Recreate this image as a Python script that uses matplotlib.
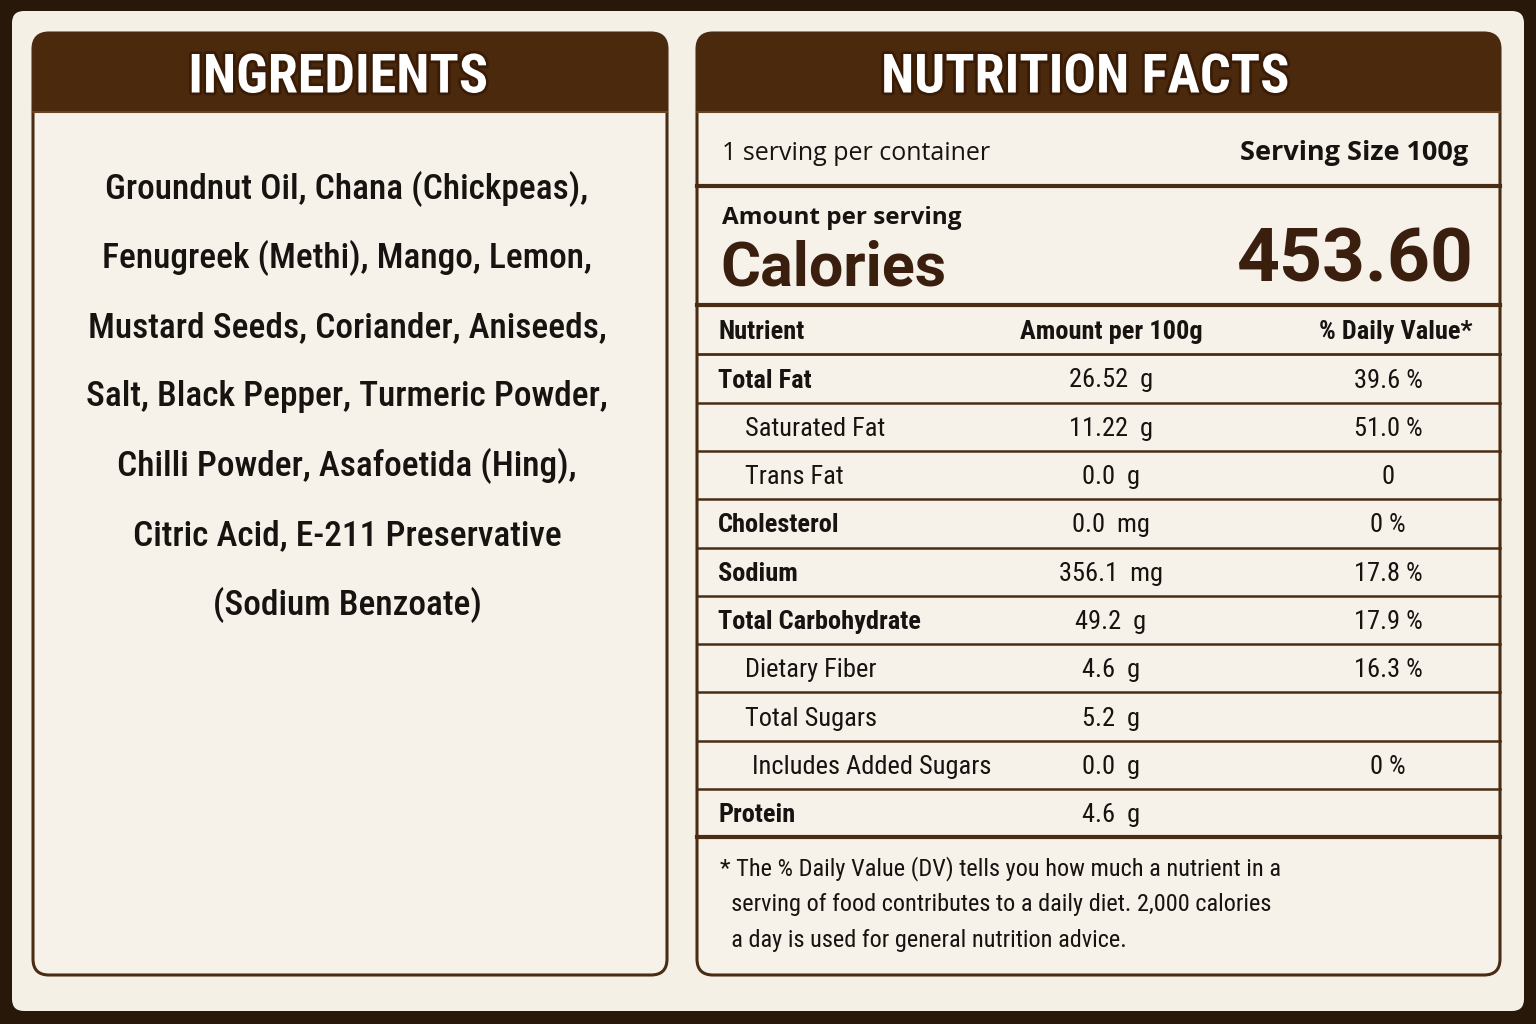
import matplotlib
matplotlib.use("Agg")
import matplotlib.pyplot as plt
from matplotlib import font_manager as fm
from matplotlib.patches import FancyBboxPatch, Rectangle
import matplotlib.patheffects as pe
import os

# ---------------- data ----------------
ingredients_title = "INGREDIENTS"
ingredient_lines = [
    "Groundnut Oil, Chana (Chickpeas),",
    "Fenugreek (Methi), Mango, Lemon,",
    "Mustard Seeds, Coriander, Aniseeds,",
    "Salt, Black Pepper, Turmeric Powder,",
    "Chilli Powder, Asafoetida (Hing),",
    "Citric Acid, E-211 Preservative",
    "(Sodium Benzoate)",
]
facts_title = "NUTRITION FACTS"
servings_text = "1 serving per container"
serving_size_text = "Serving Size 100g"
amount_label = "Amount per serving"
calories_label = "Calories"
calories_value = "453.60"
col_headers = ["Nutrient", "Amount per 100g", "% Daily Value*"]
nutrients = ["Total Fat", "Saturated Fat", "Trans Fat", "Cholesterol", "Sodium",
             "Total Carbohydrate", "Dietary Fiber", "Total Sugars",
             "Includes Added Sugars", "Protein"]
amounts = ["26.52 g", "11.22 g", "0.0 g", "0.0 mg", "356.1 mg",
           "49.2 g", "4.6 g", "5.2 g", "0.0 g", "4.6 g"]
daily_values = ["39.6 %", "51.0 %", "0", "0 %", "17.8 %",
                "17.9 %", "16.3 %", "", "0 %", ""]
indent_level = [0, 1, 1, 0, 0, 0, 1, 1, 2, 0]
footnote_lines = [
    "* The % Daily Value (DV) tells you how much a nutrient in a",
    "  serving of food contributes to a daily diet. 2,000 calories",
    "  a day is used for general nutrition advice.",
]

# ---------------- fonts ----------------
files = fm.findSystemFonts()
def find(cands):
    for c in cands:
        for f in files:
            if os.path.basename(f).lower() == c.lower():
                return f
    return None

cond_reg = find(["RobotoCondensed-Regular.ttf", "LiberationSansNarrow-Regular.ttf",
                 "DejaVuSansCondensed.ttf"])
cond_med = find(["RobotoCondensed-Medium.ttf", "RobotoCondensed-Regular.ttf",
                 "LiberationSansNarrow-Regular.ttf", "DejaVuSansCondensed.ttf"])
cond_bold = find(["RobotoCondensed-Bold.ttf", "LiberationSansNarrow-Bold.ttf",
                  "DejaVuSansCondensed-Bold.ttf"])
def FP(path, fallback_weight):
    if path:
        return fm.FontProperties(fname=path)
    return fm.FontProperties(family="DejaVu Sans", weight=fallback_weight)

f_reg = FP(cond_reg, "normal")
f_med = FP(cond_med, "normal")
f_bold = FP(cond_bold, "bold")
f_sans = fm.FontProperties(family=["Open Sans", "DejaVu Sans"])
f_sans_b = fm.FontProperties(family=["Open Sans", "DejaVu Sans"], weight="bold")
f_big = fm.FontProperties(family=["Roboto", "DejaVu Sans"], weight="bold")

def fp(base, size):
    p = base.copy()
    p.set_size(size)
    return p

# ---------------- colours ----------------
BG = "#28180a"
CARD = "#f4f0e6"
PANEL = "#f6f2ea"
BROWN = "#4b290d"
LINE = "#4a2c14"
TXT = "#161310"
CAL = "#3a1f0e"

fig = plt.figure(figsize=(15.36, 10.24), dpi=100)
fig.patch.set_facecolor(BG)
ax = fig.add_axes([0, 0, 1, 1])
ax.set_xlim(0, 1536)
ax.set_ylim(1024, 0)
ax.axis("off")

card = FancyBboxPatch((12, 11), 1512, 1000, boxstyle="round,pad=0,rounding_size=12",
                      fc=CARD, ec="none", zorder=0)
ax.add_patch(card)

def panel(x0, x1, title, tx):
    y0, y1 = 33, 975
    p = FancyBboxPatch((x0, y0), x1 - x0, y1 - y0, boxstyle="round,pad=0,rounding_size=16",
                       fc=PANEL, ec=LINE, lw=2.2, zorder=1)
    ax.add_patch(p)
    h = Rectangle((x0, y0), x1 - x0, 79, fc=BROWN, ec="none", zorder=2)
    h.set_clip_path(p)
    ax.add_patch(h)
    ax.plot([x0, x1], [112, 112], color="#6a4420", lw=1.5, zorder=3)
    ax.text(tx, 78, title, ha="center", va="center", color="white",
            fontproperties=fp(f_bold, 39), zorder=4,
            path_effects=[pe.withStroke(linewidth=4, foreground="#3a1c06")])
    return p

panel(33, 667, ingredients_title, 338)
panel(697, 1500, facts_title, 1085)

# ingredients
for i, line in enumerate(ingredient_lines):
    y = 189 + i * 69.3
    ax.text(347, y, line, ha="center", va="center", color=TXT,
            fontproperties=fp(f_med, 25.5), zorder=4)

# nutrition facts header area
XL, XR = 697, 1500
ax.text(722, 153, servings_text, ha="left", va="center", color=TXT,
        fontproperties=fp(f_sans, 18), zorder=4)
ax.text(1468, 153, serving_size_text, ha="right", va="center", color=TXT,
        fontproperties=fp(f_sans_b, 19.5), zorder=4)
ax.plot([XL, XR], [186, 186], color=LINE, lw=3, zorder=3)
ax.text(722, 218, amount_label, ha="left", va="center", color=TXT,
        fontproperties=fp(f_sans_b, 17.5), zorder=4)
ax.text(720, 268, calories_label, ha="left", va="center", color=CAL,
        fontproperties=fp(f_big, 44), zorder=4)
ax.text(1474, 262, calories_value, ha="right", va="center", color=CAL,
        fontproperties=fp(f_big, 54), zorder=4)
ax.plot([XL, XR], [305, 305], color=LINE, lw=3, zorder=3)

# column header
COL_X = [718, 1111, 1396]
for j, (hdr, ha) in enumerate(zip(col_headers, ["left", "center", "center"])):
    ax.text(COL_X[j], 332, hdr, ha=ha, va="center", color=TXT,
            fontproperties=fp(f_bold, 19), zorder=4)
ax.plot([XL, XR], [354, 354], color=LINE, lw=2, zorder=3)

ROW0, ROWH = 380.5, 48.3
INDENT = [718, 745, 752]
for i, (n, a, d, lvl) in enumerate(zip(nutrients, amounts, daily_values, indent_level)):
    y = ROW0 + i * ROWH
    base = f_bold if lvl == 0 else f_reg
    ax.text(INDENT[lvl], y, n, ha="left", va="center", color=TXT,
            fontproperties=fp(base, 19), zorder=4)
    ax.text(COL_X[1], y, a.replace(" ", "  "), ha="center", va="center", color=TXT,
            fontproperties=fp(f_reg, 19), zorder=4)
    if d:
        ax.text(1388, y, d, ha="center", va="center", color=TXT,
                fontproperties=fp(f_reg, 19), zorder=4)
    ly = y + ROWH / 2 - 2
    last = i == len(nutrients) - 1
    ax.plot([XL, XR], [ly, ly], color=LINE, lw=3 if last else 1.8, zorder=3)

for i, line in enumerate(footnote_lines):
    ax.text(720, 869 + i * 35.5, line, ha="left", va="center", color=TXT,
            fontproperties=fp(f_reg, 17.5), zorder=4)

fig.savefig("out.png", dpi=100, facecolor=BG)
